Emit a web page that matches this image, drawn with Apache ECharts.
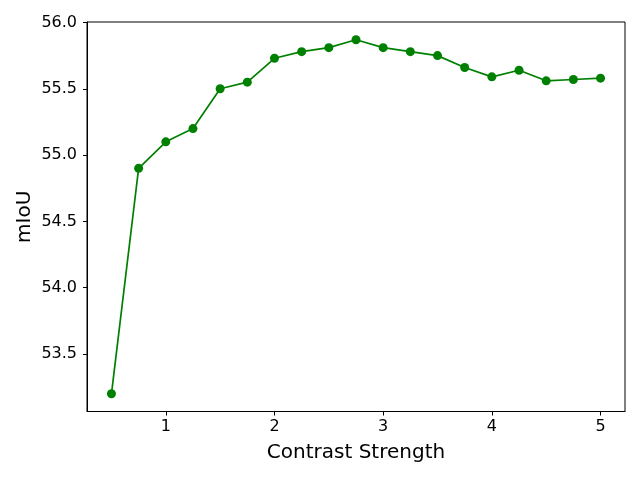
<!DOCTYPE html>
<html>
<head>
<meta charset="utf-8">
<script src="https://cdn.jsdelivr.net/npm/echarts@6/dist/echarts.min.js"></script>
<style>html,body{margin:0;padding:0;background:#fff}#c{width:640px;height:480px}</style>
</head>
<body>
<div id="c"></div>
<script>
const strengths = [0.5, 0.75, 1.0, 1.25, 1.5, 1.75, 2.0, 2.25, 2.5, 2.75, 3.0, 3.25, 3.5, 3.75, 4.0, 4.25, 4.5, 4.75, 5.0];
const miou = [53.20, 54.90, 55.10, 55.20, 55.50, 55.55, 55.73, 55.78, 55.81, 55.87, 55.81, 55.78, 55.75, 55.66, 55.59, 55.64, 55.56, 55.57, 55.58];
const xTicks = [1, 2, 3, 4, 5];
const yTicks = [53.5, 54.0, 54.5, 55.0, 55.5, 56.0];
const xLabel = 'Contrast Strength';
const yLabel = 'mIoU';

const chart = echarts.init(document.getElementById('c'), null, {renderer: 'canvas'});
const font = 'DejaVu Sans';
chart.setOption({
  animation: false,
  backgroundColor: '#fff',
  grid: {left: 87, right: 15, top: 22, bottom: 68.5, show: true, borderColor: '#000', borderWidth: 1, backgroundColor: 'transparent'},
  xAxis: {
    type: 'value', min: 0.275, max: 5.225,
    name: xLabel, nameLocation: 'middle', nameGap: 31, nameMoveOverlap: false,
    nameTextStyle: {fontFamily: font, fontSize: 20, color: '#000'},
    axisLine: {show: true, onZero: false, lineStyle: {color: '#000', width: 1}},
    axisTick: {show: true, length: 4, lineStyle: {color: '#000'}, customValues: xTicks},
    axisLabel: {fontFamily: font, fontSize: 16, color: '#000', margin: 7, customValues: xTicks, formatter: v => String(v)},
    splitLine: {show: false}
  },
  yAxis: {
    type: 'value', min: 53.0665, max: 56.0035,
    name: yLabel, nameLocation: 'middle', nameGap: 52, nameMoveOverlap: false,
    nameTextStyle: {fontFamily: font, fontSize: 20, color: '#000'},
    axisLine: {show: true, onZero: false, lineStyle: {color: '#000', width: 1}},
    axisTick: {show: true, length: 4, lineStyle: {color: '#000'}, customValues: yTicks},
    axisLabel: {fontFamily: font, fontSize: 16, color: '#000', margin: 10, customValues: yTicks, formatter: v => v.toFixed(1)},
    splitLine: {show: false}
  },
  series: [{
    type: 'line',
    data: strengths.map((s, i) => [s, miou[i]]),
    symbol: 'circle', symbolSize: 9,
    lineStyle: {color: '#008000', width: 1.7},
    itemStyle: {color: '#008000'},
    clip: false
  }]
});
</script>
</body>
</html>
